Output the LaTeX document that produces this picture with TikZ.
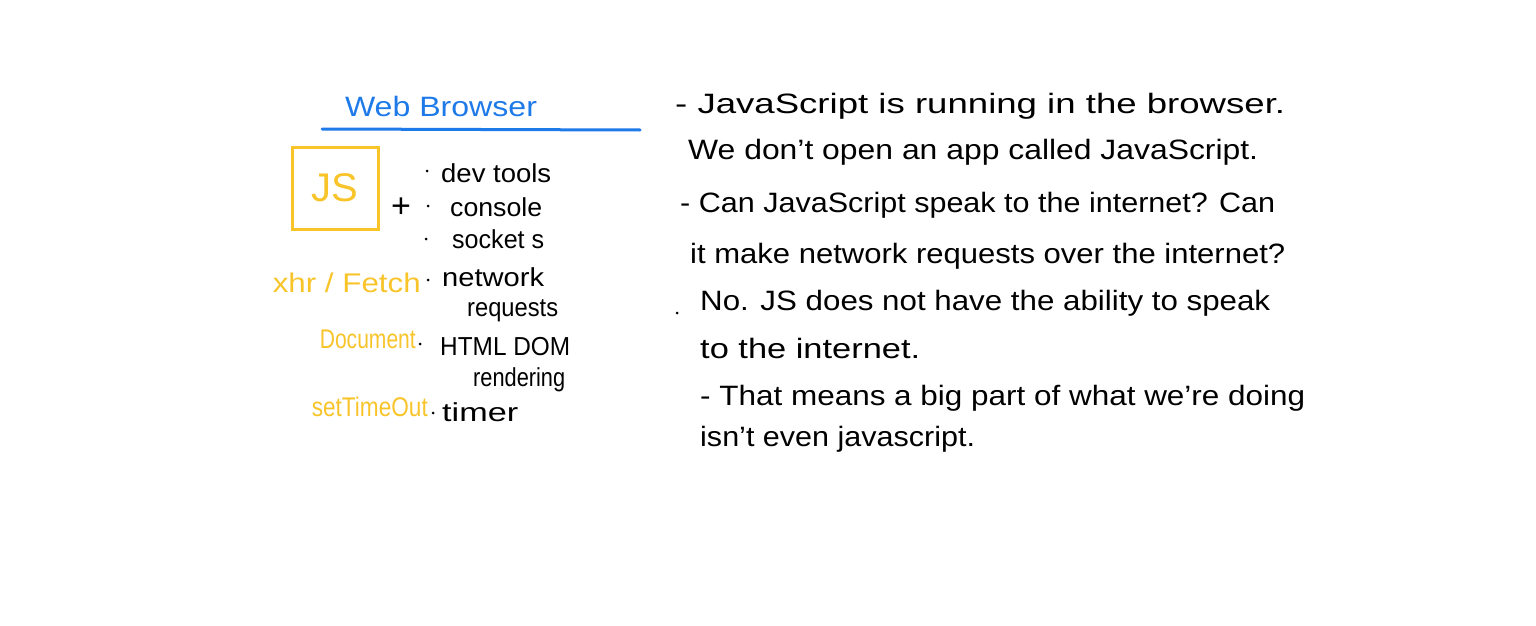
\documentclass[tikz,border=0pt]{standalone}
\usepackage{fontspec}
\setmainfont{Liberation Sans}
\usepackage{graphicx}
\definecolor{wbblue}{RGB}{30,122,232}
\definecolor{jsyellow}{RGB}{248,196,42}
\newcommand{\fitw}[2]{\resizebox{#1}{\height}{#2}}
\begin{document}
\begin{tikzpicture}[x=1pt,y=-1pt,
  txt/.style={anchor=base west, inner sep=0pt, font=\fontsize{28}{28}\selectfont},
  item/.style={anchor=base west, inner sep=0pt, font=\fontsize{26}{26}\selectfont},
  ylab/.style={anchor=base east, inner sep=0pt, text=jsyellow, font=\fontsize{27}{27}\selectfont},
  bul/.style={circle, fill=black, inner sep=0pt, minimum size=3pt}]
\useasboundingbox (0,0) rectangle (1536,626);
% title
\node[anchor=base, inner sep=0pt, text=wbblue, font=\fontsize{28}{28}\selectfont] (title) at (441,116) {\fitw{192pt}{Web Browser}};
\coordinate (ruleL) at (322,129);
\coordinate (ruleR) at (640,130);
\draw[wbblue, line width=3pt, line cap=round] (ruleL) -- (ruleR);
% JS box
\node[draw=jsyellow, line width=3pt, minimum width=86pt, minimum height=82pt, inner sep=0pt] (jsbox) at (335,188) {};
\node[text=jsyellow, inner sep=0pt, font=\fontsize{40}{40}\selectfont] (js) at (jsbox.center) {JS};
\node[inner sep=0pt, font=\fontsize{34}{34}\selectfont] (plus) at (401,208) {+};
% bullets
\node[bul] (d1) at (427,171) {};
\node[bul] (d2) at (428,206) {};
\node[bul] (d3) at (426,239) {};
\node[bul] (d4) at (428,280) {};
\node[bul] (d5) at (420,344) {};
\node[bul] (d6) at (433,413) {};
% items
\node[item] (i1) at (441,182) {\fitw{110pt}{dev tools}};
\node[item] (i2) at (450,216) {\fitw{92pt}{console}};
\node[item] (i3) at (452,248) {\fitw{92pt}{socket s}};
\node[item] (i4) at (442,286) {\fitw{102pt}{network}};
\node[item] (i5) at (467,316) {\fitw{91pt}{requests}};
\node[item] (i6) at (440,355) {\fitw{130pt}{HTML DOM}};
\node[item] (i7) at (473,386) {\fitw{92pt}{rendering}};
\node[item] (i8) at (442,421) {\fitw{76pt}{timer}};
% yellow labels
\node[ylab] (y1) at (421,292) {\fitw{148pt}{xhr / Fetch}};
\node[ylab] (y2) at (416,348) {\fitw{96pt}{Document}};
\node[ylab] (y3) at (428,416) {\fitw{116pt}{setTimeOut}};
% right text
\node[txt] (r1) at (675,113) {\fitw{610pt}{- JavaScript is running in the browser.}};
\node[txt] (r2) at (688,159) {\fitw{570pt}{We don't open an app called JavaScript.}};
\node[txt] (r3) at (680,212) {\fitw{595pt}{- Can JavaScript speak to the internet? Can}};
\node[txt] (r4) at (690,263) {\fitw{595pt}{it make network requests over the internet?}};
\node[bul] (d7) at (677,313) {};
\node[txt] (r5) at (700,310) {\fitw{570pt}{No. JS does not have the ability to speak}};
\node[txt] (r6) at (700,358) {\fitw{220pt}{to the internet.}};
\node[txt] (r7) at (700,405) {\fitw{605pt}{- That means a big part of what we're doing}};
\node[txt] (r8) at (700,446) {\fitw{275pt}{isn't even javascript.}};
\end{tikzpicture}
\end{document}
